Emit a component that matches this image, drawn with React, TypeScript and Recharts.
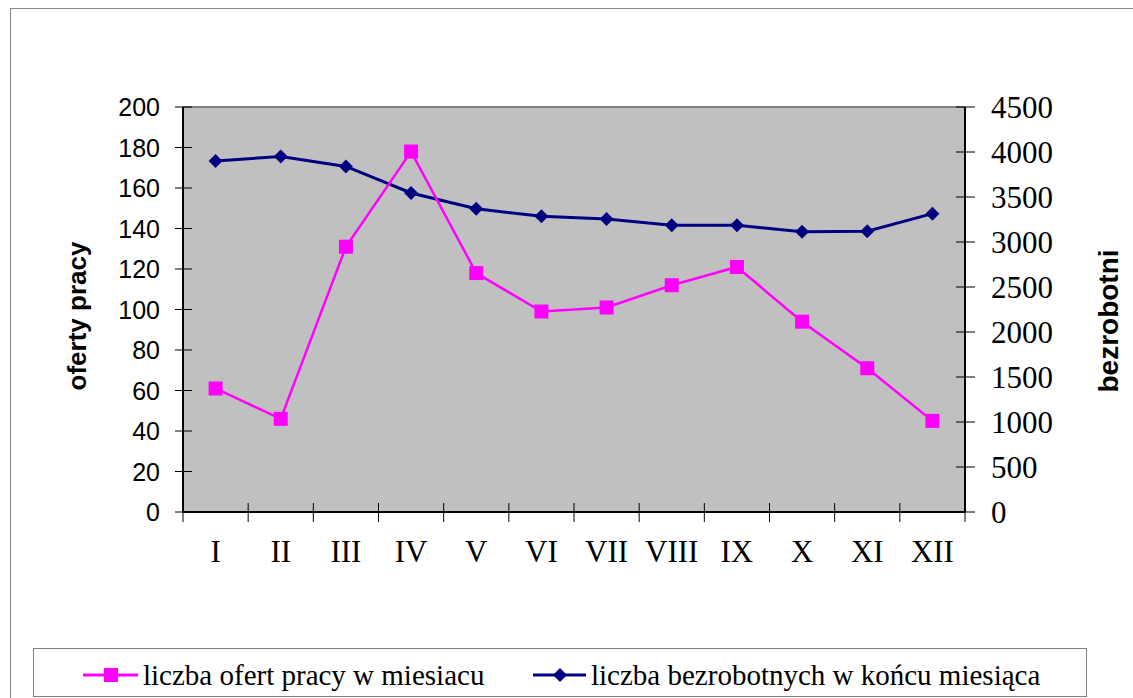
import { LineChart, Line, XAxis, YAxis, CartesianGrid, ReferenceLine } from 'recharts';

const months = ['I', 'II', 'III', 'IV', 'V', 'VI', 'VII', 'VIII', 'IX', 'X', 'XI', 'XII'];
const oferty = [61, 46, 131, 178, 118, 99, 101, 112, 121, 94, 71, 45];
const bezrobotni = [3900, 3950, 3840, 3545, 3370, 3285, 3255, 3185, 3185, 3115, 3120, 3315];
const leftTicks = [0, 20, 40, 60, 80, 100, 120, 140, 160, 180, 200];
const rightTicks = [0, 500, 1000, 1500, 2000, 2500, 3000, 3500, 4000, 4500];

const data = months.map((m, i) => ({ m, oferty: oferty[i], bezrobotni: bezrobotni[i] }));

const PINK = '#FF00FF';
const NAVY = '#000080';
const SANS = '"Liberation Sans", Arial, sans-serif';
const SERIF = '"Liberation Serif", "Times New Roman", serif';

const W = 1133;
const H = 698;
const PLOT_L = 183;
const PLOT_R = 965;
const PLOT_T = 107;
const PLOT_B = 512;
const BAND = (PLOT_R - PLOT_L) / months.length;

const LeftTick = ({ y, payload }: any) => (
    <g>
        <line x1={175} x2={192} y1={y} y2={y} stroke="#000" strokeWidth={1} />
        <text x={160} y={y} textAnchor="end" dominantBaseline="central" fontFamily={SANS} fontSize={25} fill="#000">
            {payload.value}
        </text>
    </g>
);

const RightTick = ({ y, payload }: any) => (
    <g>
        <line x1={956} x2={975} y1={y} y2={y} stroke="#000" strokeWidth={1} />
        <text x={991} y={y} textAnchor="start" dominantBaseline="central" fontFamily={SERIF} fontSize={31} fill="#000">
            {payload.value}
        </text>
    </g>
);

const BottomTick = ({ x, payload, index }: any) => (
    <g>
        <line x1={x - BAND / 2} x2={x - BAND / 2} y1={503} y2={522} stroke="#000" strokeWidth={1} />
        {index === months.length - 1 && (
            <line x1={x + BAND / 2} x2={x + BAND / 2} y1={503} y2={522} stroke="#000" strokeWidth={1} />
        )}
        <text x={x} y={551} textAnchor="middle" dominantBaseline="central" fontFamily={SERIF} fontSize={31} fill="#000">
            {payload.value}
        </text>
    </g>
);

const SquareDot = ({ cx, cy, index }: any) => (
    <rect key={'s' + index} x={cx - 7} y={cy - 7} width={14} height={14} fill={PINK} />
);

const DiamondDot = ({ cx, cy, index }: any) => (
    <path key={'d' + index} d={`M${cx},${cy - 7}L${cx + 7},${cy}L${cx},${cy + 7}L${cx - 7},${cy}Z`} fill={NAVY} />
);

export default function App() {
    return (
        <div style={{ position: 'absolute', left: 0, top: 0, width: W, height: H, overflow: 'hidden', background: '#fff' }}>
            <div style={{ position: 'absolute', left: 10, top: 8, width: 1140, height: 700, border: '1px solid #888' }} />
            <div style={{ position: 'absolute', left: 0, top: 0 }}>
                <LineChart
                    width={W}
                    height={H}
                    data={data}
                    margin={{ top: PLOT_T, right: 0, left: 0, bottom: H - PLOT_B - 60 }}
                >
                    <CartesianGrid horizontal={false} vertical={false} fill="#C0C0C0" />
                    <XAxis
                        dataKey="m"
                        height={60}
                        padding={{ left: BAND / 2, right: BAND / 2 }}
                        tick={<BottomTick />}
                        tickLine={false}
                        axisLine={{ stroke: '#000', strokeWidth: 2 }}
                        interval={0}
                    />
                    <YAxis
                        yAxisId="left"
                        width={PLOT_L}
                        domain={[0, 200]}
                        ticks={leftTicks}
                        tick={<LeftTick />}
                        tickLine={false}
                        axisLine={{ stroke: '#000', strokeWidth: 2 }}
                        interval={0}
                        label={{
                            content: () => (
                                <text x={77} y={316} transform="rotate(-90 77 316)" textAnchor="middle" dominantBaseline="central"
                                    fontFamily={SANS} fontWeight="bold" fontSize={26} fill="#000">
                                    oferty pracy
                                </text>
                            ),
                        }}
                    />
                    <YAxis
                        yAxisId="right"
                        orientation="right"
                        width={W - PLOT_R}
                        domain={[0, 4500]}
                        ticks={rightTicks}
                        tick={<RightTick />}
                        tickLine={false}
                        axisLine={{ stroke: '#000', strokeWidth: 2 }}
                        interval={0}
                        label={{
                            content: () => (
                                <text x={1108} y={321} transform="rotate(-90 1108 321)" textAnchor="middle" dominantBaseline="central"
                                    fontFamily={SANS} fontWeight="bold" fontSize={28} fill="#000">
                                    bezrobotni
                                </text>
                            ),
                        }}
                    />
                    <ReferenceLine yAxisId="left" y={200} stroke="#808080" strokeWidth={2} />
                    <Line
                        yAxisId="right"
                        dataKey="bezrobotni"
                        stroke={NAVY}
                        strokeWidth={3}
                        dot={<DiamondDot />}
                        activeDot={false}
                        isAnimationActive={false}
                    />
                    <Line
                        yAxisId="left"
                        dataKey="oferty"
                        stroke={PINK}
                        strokeWidth={2.5}
                        dot={<SquareDot />}
                        activeDot={false}
                        isAnimationActive={false}
                    />
                </LineChart>
            </div>
            <div style={{ position: 'absolute', left: 33, top: 648, width: 1054, height: 49, border: '1px solid #808080', boxSizing: 'border-box' }}>
                <svg style={{ position: 'absolute', left: 49, top: 18 }} width={56} height={16}>
                    <line x1={0} x2={55} y1={8} y2={8} stroke={PINK} strokeWidth={3} />
                    <rect x={21} y={1} width={14} height={14} fill={PINK} />
                </svg>
                <span style={{ position: 'absolute', left: 109, top: 26, transform: 'translateY(-50%)', fontFamily: SERIF, fontSize: 29, whiteSpace: 'nowrap', lineHeight: 1 }}>
                    liczba ofert pracy w miesiacu
                </span>
                <svg style={{ position: 'absolute', left: 499, top: 18 }} width={56} height={16}>
                    <line x1={0} x2={53} y1={8} y2={8} stroke={NAVY} strokeWidth={3} />
                    <path d="M27,1L34,8L27,15L20,8Z" fill={NAVY} />
                </svg>
                <span style={{ position: 'absolute', left: 557, top: 26, transform: 'translateY(-50%)', fontFamily: SERIF, fontSize: 29, whiteSpace: 'nowrap', lineHeight: 1 }}>
                    liczba bezrobotnych w końcu miesiąca
                </span>
            </div>
        </div>
    );
}
